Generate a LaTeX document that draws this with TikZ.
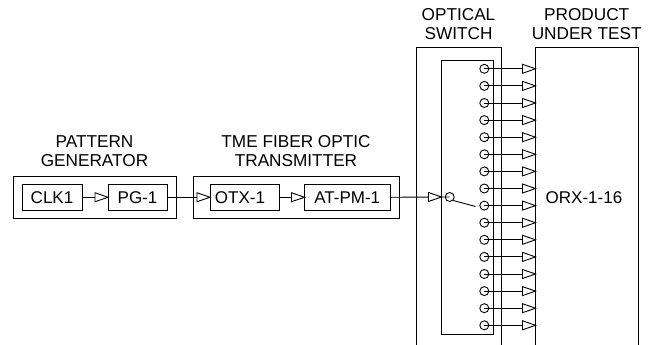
\documentclass[tikz,border=0pt]{standalone}
\usepackage{fontspec}
\setmainfont{Liberation Sans}
\newcommand{\arrowhd}[2]{\draw[tri] (#1-13,#2-4.5) -- (#1,#2) -- (#1-13,#2+4.5) -- cycle;}
\begin{document}
\begin{tikzpicture}[x=1pt,y=-1pt,
  blk/.style={draw,line width=0.9pt,inner sep=0pt,anchor=center,font=\fontsize{17}{17}\selectfont},
  frame/.style={draw,line width=0.9pt},
  wire/.style={line width=0.9pt},
  tri/.style={draw,line width=0.9pt,fill=white},
  term/.style={circle,draw,line width=0.9pt,minimum size=9pt,inner sep=0pt},
  captext/.style={align=center,font=\fontsize{17.2}{19}\selectfont,inner sep=0pt}]
\useasboundingbox (0,0) rectangle (656,345);
% frames
\node[frame,minimum width=162.5pt,minimum height=42.5pt,inner sep=0pt] (pgf) at (94.75,197.25) {};
\node[frame,minimum width=205.5pt,minimum height=42.5pt,inner sep=0pt] (txf) at (296.25,197.25) {};
\coordinate (swbl) at (416,345); \coordinate (swtl) at (416,47); \coordinate (swtr) at (501.5,47); \coordinate (swbr) at (501.5,345);
\coordinate (dbl) at (535.5,345); \coordinate (dtl) at (535.5,47); \coordinate (dtr) at (638,47); \coordinate (dbr) at (638,345);
\draw[frame] (swbl) -- (swtl) -- (swtr) -- (swbr);
\draw[frame] (dbl) -- (dtl) -- (dtr) -- (dbr);
\node[frame,minimum width=51.5pt,minimum height=274pt,inner sep=0pt] (inner) at (467.25,197) {};
% blocks
\node[blk,minimum width=60pt,minimum height=25.5pt] (clk) at (52,197.25) {CLK1};
\node[blk,minimum width=59pt,minimum height=25.5pt] (pg) at (137.5,197.25) {PG-1};
\node[blk,minimum width=69pt,minimum height=25.5pt] (otx) at (244.5,197.25) {OTX-1\kern9pt};
\node[blk,minimum width=85.5pt,minimum height=25.5pt] (at) at (347.25,197.25) {AT-PM-1};
% captions
\node[captext] (c1) at (94.5,151.5) {PATTERN\\GENERATOR};
\node[captext] (c2) at (296,151.5) {TME FIBER OPTIC\\TRANSMITTER};
\node[captext] (c3) at (458.5,24) {OPTICAL\\SWITCH};
\node[captext] (c4) at (586.7,24) {PRODUCT\\UNDER TEST};
\node[inner sep=0pt,font=\fontsize{17}{17}\selectfont] (orx) at (584,197.5) {ORX-1-16};
% connectors
\draw[wire] (clk.east) -- (pg.west); \arrowhd{108}{197.25}
\draw[wire] (pg.east) -- (otx.west); \arrowhd{210}{197.25}
\draw[wire] (otx.east) -- (at.west); \arrowhd{304.5}{197.25}
\node[term] (in) at (449.7,197) {};
\draw[wire] (at.east) -- (in.center); \arrowhd{441.5}{197}
% terminals
\foreach \i in {0,...,15}{
  \pgfmathsetmacro{\yy}{68.8+17.1*\i}
  \node[term] (t\i) at (484.3,\yy) {};
  \coordinate (d\i) at (535.5,\yy);
  \draw[wire] (t\i.center) -- (d\i);
  \draw[tri] (522.5,\yy-4.5) -- (535.5,\yy) -- (522.5,\yy+4.5) -- cycle;
}
\coordinate (lever) at (475.5,206.5);
\draw[wire] (in.south east) -- (lever);
\end{tikzpicture}
\end{document}
